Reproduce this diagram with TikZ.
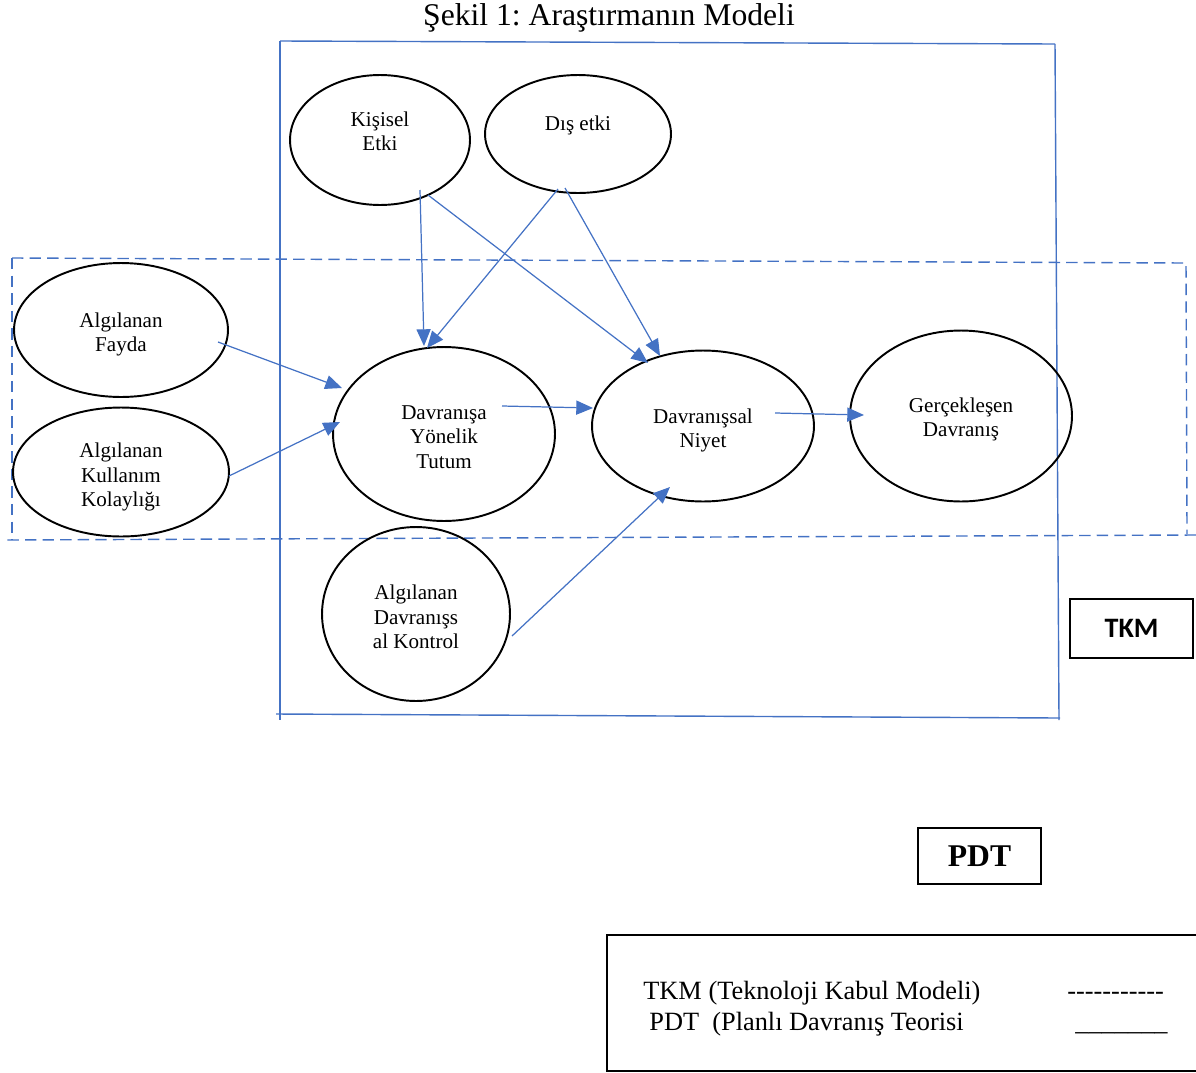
\documentclass[tikz,border=0pt]{standalone}
\usepackage{fontspec}
\setmainfont{Liberation Serif}
\newfontfamily\calfont{Carlito}
\usetikzlibrary{arrows.meta,shapes.geometric}
\definecolor{wblue}{HTML}{4472C4}
\frenchspacing
\begin{document}
\begin{tikzpicture}[x=0.02cm,y=-0.02cm,
  oval/.style={ellipse,draw=black,line width=1.1pt,inner sep=0pt},
  lbl/.style={align=center,font=\fontsize{12}{13.9}\selectfont,inner sep=0pt},
  arr/.style={draw=wblue,line width=0.7pt,-{Triangle[length=9.5pt,width=8pt]}},
  frame/.style={draw=wblue,line width=0.8pt},
  dframe/.style={draw=wblue,line width=0.8pt,dash pattern=on 6.5pt off 3.5pt},
  kbox/.style={draw=black,line width=1.2pt,inner sep=0pt},
  legtext/.style={anchor=base west,inner sep=0pt,font=\fontsize{15}{17}\selectfont}
]
\useasboundingbox (0,0) rectangle (1196,1072);

% title
\node[inner sep=0pt] (title) at (609,18) {\fontsize{18}{21}\selectfont Şekil 1: Araştırmanın Modeli};

% PDT frame (solid)
\coordinate (p1) at (280,41);
\coordinate (p2) at (1055,44);
\coordinate (p3) at (1059,720);
\coordinate (p4) at (280,720);
\draw[frame] (p1) -- (p2);
\draw[frame] (p2) -- (p3);
\draw[frame] (p1) -- (p4);
\coordinate (p5) at (276,714);
\coordinate (p6) at (1060,718);
\draw[frame] (p5) -- (p6);

% TKM frame (dashed)
\coordinate (d1) at (12,258);
\coordinate (d2) at (1186,263);
\coordinate (d3) at (1187,534);
\coordinate (d4) at (1196,535);
\coordinate (d5) at (6,540);
\coordinate (d6) at (12,540);
\draw[dframe] (d1) -- (d2) -- (d3);
\draw[dframe] (d4) -- (d5);
\draw[dframe] (d1) -- (d6);

% ellipses
\node[oval,minimum width=3.6cm,minimum height=2.6cm] (kis) at (380,140) {};
\node[oval,minimum width=3.72cm,minimum height=2.36cm] (dis) at (578,134) {};
\node[oval,minimum width=4.28cm,minimum height=2.68cm] (fay) at (121,330) {};
\node[oval,minimum width=4.32cm,minimum height=2.58cm] (kol) at (121,472) {};
\node[oval,minimum width=4.44cm,minimum height=3.48cm] (tut) at (444,434) {};
\node[oval,minimum width=4.44cm,minimum height=3.02cm] (niy) at (703,426) {};
\node[oval,minimum width=4.44cm,minimum height=3.42cm] (ger) at (961,416) {};
\node[oval,minimum width=3.76cm,minimum height=3.48cm] (kon) at (416,614) {};

% labels
\node[lbl] (kisT) at (380,131) {Kişisel\\Etki};
\node[lbl] (disT) at (578,125) {Dış etki};
\node[lbl] (fayT) at (121,334.5) {Algılanan\\Fayda};
\node[lbl] (kolT) at (121,477) {Algılanan\\Kullanım\\Kolaylığı};
\node[lbl] (tutT) at (444,437) {Davranışa\\Yönelik\\Tutum};
\node[lbl] (niyT) at (703,430.5) {Davranışsal\\Niyet};
\node[lbl] (gerT) at (961,419.5) {Gerçekleşen\\Davranış};
\node[lbl] (konT) at (416,617) {Algılanan\\Davranışs\\al Kontrol};

% arrow end points
\coordinate (a1s) at (420,190); \coordinate (a1e) at (424,346);
\coordinate (a2s) at (428,195); \coordinate (a2e) at (648,363);
\coordinate (a3s) at (558,189); \coordinate (a3e) at (427,348);
\coordinate (a4s) at (565,188); \coordinate (a4e) at (660,356);
\coordinate (a5s) at (218,342); \coordinate (a5e) at (342,388);
\coordinate (a6s) at (229,476); \coordinate (a6e) at (340,422);
\coordinate (a7s) at (502,406); \coordinate (a7e) at (593,408);
\coordinate (a8s) at (775,413); \coordinate (a8e) at (864,415);
\coordinate (a9s) at (512,636); \coordinate (a9e) at (670,487);
\draw[arr] (a1s) -- (a1e);
\draw[arr] (a2s) -- (a2e);
\draw[arr] (a3s) -- (a3e);
\draw[arr] (a4s) -- (a4e);
\draw[arr] (a5s) -- (a5e);
\draw[arr] (a6s) -- (a6e);
\draw[arr] (a7s) -- (a7e);
\draw[arr] (a8s) -- (a8e);
\draw[arr] (a9s) -- (a9e);

% key boxes
\node[kbox,minimum width=2.46cm,minimum height=1.18cm] (tkm) at (1131.5,628.5) {\calfont\bfseries\fontsize{16}{19}\selectfont TKM};
\node[kbox,minimum width=2.46cm,minimum height=1.12cm] (pdt) at (979.5,856) {\bfseries\fontsize{18}{21}\selectfont\raisebox{-0.06cm}{PDT}};

% legend
\coordinate (l1) at (1200,935);
\coordinate (l2) at (607,935);
\coordinate (l3) at (607,1071);
\coordinate (l4) at (1200,1071);
\draw[black,line width=1.2pt] (l1) -- (l2) -- (l3) -- (l4);
\node[legtext] (leg1) at (643,999) {TKM (Teknoloji Kabul Modeli)};
\node[legtext] (leg2) at (649,1030) {PDT\ \ (Planlı Davranış Teorisi};
\node[legtext] (leg3) at (1067,999) {-{}-{}-{}-{}-{}-{}-{}-{}-{}-{}-};
\node[legtext] (leg4) at (1075,1030) {\_\_\_\_\_\_\_};
\end{tikzpicture}
\end{document}
